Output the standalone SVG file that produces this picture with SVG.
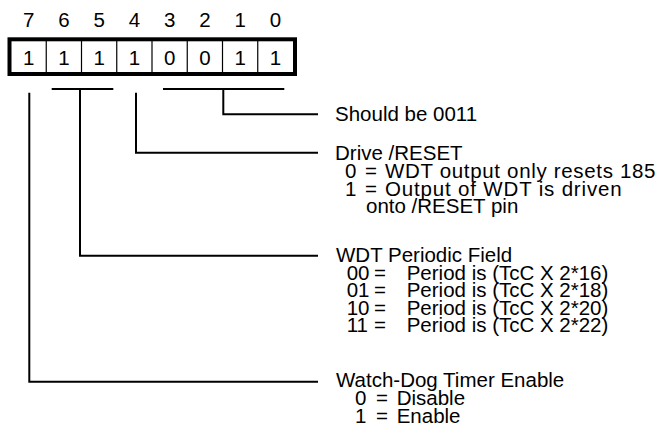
<svg xmlns="http://www.w3.org/2000/svg" width="660" height="432" viewBox="0 0 660 432">
<style>
text{font-family:"Liberation Sans",Arial,sans-serif;font-size:20.5px;fill:#000}
.c{text-anchor:middle}
.ln{fill:none;stroke:#000;stroke-width:2}
.div{stroke:#000;stroke-width:1.2}
</style>
<rect width="660" height="432" fill="#fff"/>
<g id="bitnums">
<text class="c" x="28.6" y="27">7</text>
<text class="c" x="63.9" y="27">6</text>
<text class="c" x="99.1" y="27">5</text>
<text class="c" x="134.4" y="27">4</text>
<text class="c" x="169.6" y="27">3</text>
<text class="c" x="204.9" y="27">2</text>
<text class="c" x="240.1" y="27">1</text>
<text class="c" x="275.4" y="27">0</text>
</g>
<g id="register">
<rect x="9.5" y="39.3" width="285.5" height="34.7" fill="#fff" stroke="#000" stroke-width="4"/>
<line class="div" x1="46.25" y1="41" x2="46.25" y2="72"/>
<line class="div" x1="81.5" y1="41" x2="81.5" y2="72"/>
<line class="div" x1="116.75" y1="41" x2="116.75" y2="72"/>
<line class="div" x1="152" y1="41" x2="152" y2="72"/>
<line class="div" x1="187.25" y1="41" x2="187.25" y2="72"/>
<line class="div" x1="222.5" y1="41" x2="222.5" y2="72"/>
<line class="div" x1="257.75" y1="41" x2="257.75" y2="72"/>
<text class="c" x="28.6" y="65">1</text>
<text class="c" x="63.9" y="65">1</text>
<text class="c" x="99.1" y="65">1</text>
<text class="c" x="134.4" y="65">1</text>
<text class="c" x="169.6" y="65">0</text>
<text class="c" x="204.9" y="65">0</text>
<text class="c" x="240.1" y="65">1</text>
<text class="c" x="275.4" y="65">1</text>
</g>
<g id="connectors">
<path class="ln" d="M163,89 H284.3 M223.3,89 V114.3 H318"/>
<path class="ln" d="M136,92.7 V152.7 H318"/>
<path class="ln" d="M51.7,89 H113.3 M80,89 V255.7 H318"/>
<path class="ln" d="M29.3,92.7 V381.7 H318"/>
</g>
<g id="field-reserved">
<text x="335" y="121">Should be 0011</text>
</g>
<g id="field-drive-reset">
<text><tspan x="335" y="160">Drive /RESET</tspan><tspan x="345" y="178">0</tspan><tspan x="365" y="178">=</tspan><tspan x="385" y="178" letter-spacing="0.67">WDT output only resets 185</tspan><tspan x="345" y="195.5" letter-spacing="0">1</tspan><tspan x="365" y="195.5">=</tspan><tspan x="385" y="195.5" letter-spacing="0.83">Output of WDT is driven</tspan><tspan x="366" y="213" letter-spacing="0">onto /RESET pin</tspan></text>
</g>
<g id="field-periodic">
<text><tspan x="336" y="262">WDT Periodic Field</tspan><tspan x="346.7" y="279.5">00</tspan><tspan x="374" y="279.5">=</tspan><tspan x="406.7" y="279.5">Period is (TcC X 2*16)</tspan><tspan x="346.7" y="297">01</tspan><tspan x="374" y="297">=</tspan><tspan x="406.7" y="297">Period is (TcC X 2*18)</tspan><tspan x="346.7" y="314.5">10</tspan><tspan x="374" y="314.5">=</tspan><tspan x="406.7" y="314.5">Period is (TcC X 2*20)</tspan><tspan x="346.7" y="332">11</tspan><tspan x="374" y="332">=</tspan><tspan x="406.7" y="332">Period is (TcC X 2*22)</tspan></text>
</g>
<g id="field-wdt-enable">
<text><tspan x="336" y="387">Watch-Dog Timer Enable</tspan><tspan x="355" y="405">0</tspan><tspan x="376" y="405">=</tspan><tspan x="396.7" y="405">Disable</tspan><tspan x="355" y="422.5">1</tspan><tspan x="376" y="422.5">=</tspan><tspan x="396.7" y="422.5">Enable</tspan></text>
</g>
</svg>
